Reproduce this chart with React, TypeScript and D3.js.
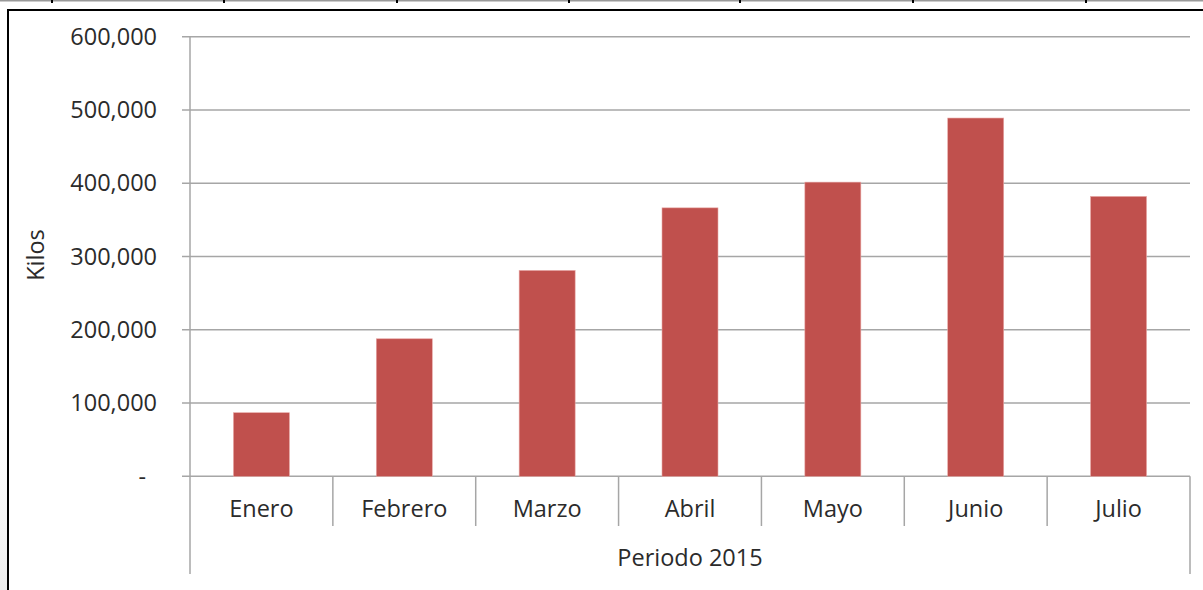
import React from "react";
import * as d3 from "d3";

const months = ["Enero", "Febrero", "Marzo", "Abril", "Mayo", "Junio", "Julio"];
const kilos = [86800, 187700, 281000, 366400, 401500, 489000, 382000];
const yTicks = [0, 100000, 200000, 300000, 400000, 500000, 600000];
const xTitle = "Periodo 2015";
const yTitle = "Kilos";
const topMarks = [52, 224, 397, 569, 740, 913, 1086];

const W = 1203;
const H = 590;
const FONT = "'Open Sans', Lato, sans-serif";
const FS = 23.5;

export default function App() {
  const left = 190;
  const right = 1190;
  const y = d3.scaleLinear().domain([0, 600000]).range([476.3, 36.7]);
  const x = d3.scaleBand<string>().domain(months).range([left, right]).padding(0);
  const bw = x.bandwidth() * 0.392;
  const fmt = d3.format(",");
  const grid = "#a6a6a6";
  const txt = "#2b2b2b";
  const y0 = y(0);

  return (
    <svg
      width={W}
      height={H}
      style={{ position: "absolute", left: 0, top: 0, background: "#fff" }}
      fontFamily={FONT}
    >
      <defs>
        <linearGradient id="shade" x1="0" y1="0" x2="0" y2="1">
          <stop offset="0" stopColor="#f4f4f4" stopOpacity={0} />
          <stop offset="1" stopColor="#ececec" stopOpacity={1} />
        </linearGradient>
      </defs>
      <rect x={0} y={0} width={W} height={H} fill="#fff" />
      <rect x={0} y={420} width={7} height={170} fill="url(#shade)" />
      {/* top table border */}
      <line x1={0} x2={W} y1={0.75} y2={0.75} stroke="#9a9a9a" strokeWidth={1.5} />
      {topMarks.map((m, i) => (
        <line key={i} x1={m} x2={m} y1={0} y2={3} stroke="#000" strokeWidth={2} />
      ))}
      <line x1={7} x2={W} y1={10} y2={10} stroke="#000" strokeWidth={2} />
      <line x1={8} x2={8} y1={9} y2={H} stroke="#000" strokeWidth={2} />

      {/* gridlines and y ticks */}
      {yTicks.map((t) => (
        <g key={t}>
          <line x1={left - 8} x2={right} y1={y(t)} y2={y(t)} stroke={grid} strokeWidth={1.5} />
          <text
            x={t === 0 ? 146 : 157}
            y={y(t)}
            dy="0.35em"
            textAnchor="end"
            fontSize={FS}
            fill={txt}
          >
            {t === 0 ? "-" : fmt(t)}
          </text>
        </g>
      ))}

      {/* bars */}
      {months.map((m, i) => (
        <rect
          key={m}
          x={(x(m) as number) + (x.bandwidth() - bw) / 2}
          y={y(kilos[i])}
          width={bw}
          height={y0 - y(kilos[i])}
          fill="#c0504d"
          stroke="#e8a8a6"
          strokeWidth={0.6}
        />
      ))}

      {/* axes */}
      <line x1={left} x2={left} y1={y(600000)} y2={574} stroke={grid} strokeWidth={1.5} />
      <line x1={right} x2={right} y1={y0} y2={574} stroke={grid} strokeWidth={1.5} />
      {months.slice(1).map((m) => (
        <line
          key={m}
          x1={x(m) as number}
          x2={x(m) as number}
          y1={y0}
          y2={526}
          stroke={grid}
          strokeWidth={1.5}
        />
      ))}
      {months.map((m) => (
        <text
          key={m}
          x={(x(m) as number) + x.bandwidth() / 2}
          y={517}
          textAnchor="middle"
          fontSize={FS}
          fill={txt}
        >
          {m}
        </text>
      ))}
      <text x={(left + right) / 2} y={566} textAnchor="middle" fontSize={FS} fill={txt}>
        {xTitle}
      </text>
      <text
        transform="translate(44,255) rotate(-90)"
        textAnchor="middle"
        fontSize={FS}
        fill={txt}
      >
        {yTitle}
      </text>
    </svg>
  );
}
